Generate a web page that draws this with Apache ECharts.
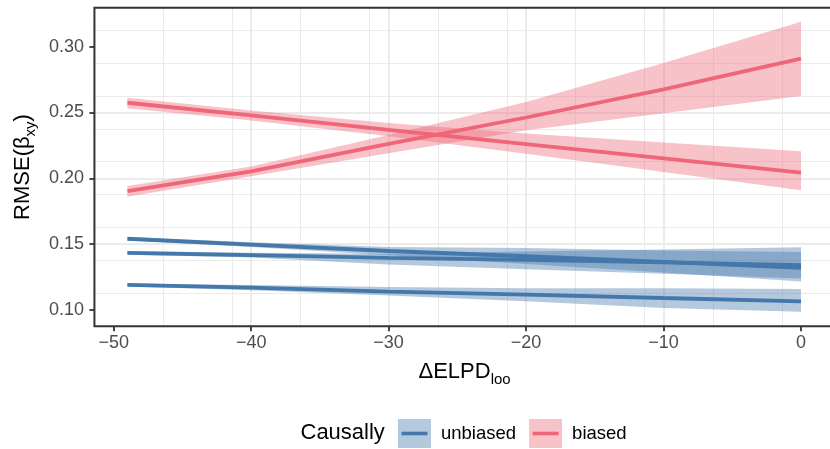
<!DOCTYPE html>
<html><head><meta charset="utf-8">
<script src="https://cdn.jsdelivr.net/npm/echarts@6/dist/echarts.min.js"></script>
<style>html,body{margin:0;padding:0;background:#fff;overflow:hidden;width:830px;height:449px}#c{width:840px;height:449px}</style>
</head><body><div id="c"></div>
<script>
// ---- data ----
const xs = [-49, -40, -30, -20, -10, 0];
const xTicks = [-50, -40, -30, -20, -10, 0];
const yTicks = [0.10, 0.15, 0.20, 0.25, 0.30];
const legendNames = ['unbiased', 'biased'];

// unbiased (blue) fits
const unbiasedA    = [0.1541, 0.1497, 0.1448, 0.1408, 0.1366, 0.1320];
const unbiasedALo  = [0.1527, 0.1478, 0.1415, 0.1350, 0.1285, 0.1216];
const unbiasedAHi  = [0.1555, 0.1514, 0.1478, 0.1470, 0.1452, 0.1440];
const unbiasedB    = [0.1434, 0.1416, 0.1395, 0.1380, 0.1362, 0.1340];
const unbiasedBLo  = [0.1420, 0.1398, 0.1345, 0.1310, 0.1275, 0.1240];
const unbiasedBHi  = [0.1448, 0.1434, 0.1428, 0.1445, 0.1460, 0.1477];
const unbiasedC    = [0.1190, 0.1170, 0.1139, 0.1117, 0.1091, 0.1066];
const unbiasedCLo  = [0.1178, 0.1150, 0.1109, 0.1066, 0.1015, 0.0987];
const unbiasedCHi  = [0.1202, 0.1190, 0.1175, 0.1165, 0.1165, 0.1160];
// biased (red) fits
const biasedD      = [0.2574, 0.2478, 0.2368, 0.2260, 0.2151, 0.2043];
const biasedDLo    = [0.2532, 0.2440, 0.2320, 0.2187, 0.2048, 0.1909];
const biasedDHi    = [0.2612, 0.2515, 0.2420, 0.2341, 0.2273, 0.2206];
const biasedE      = [0.1903, 0.2053, 0.2262, 0.2462, 0.2676, 0.2909];
const biasedELo    = [0.1860, 0.2015, 0.2190, 0.2365, 0.2495, 0.2625];
const biasedEHi    = [0.1942, 0.2090, 0.2330, 0.2580, 0.2876, 0.3190];

// ---- style ----
const FONT = "'Liberation Sans', Arial, Helvetica, sans-serif";
const BLUE = '#4477AA', RED = '#EE6677';
const BLUE_F = 'rgba(68,119,170,0.4)', RED_F = 'rgba(238,102,119,0.4)';
const GRID = '#EBEBEB';

function bandSeries(lo, hi, fill) {
  return {
    type: 'custom', silent: true, z: 1,
    xAxisIndex: 0, yAxisIndex: 0,
    data: [[xs[0], lo[0]]],
    renderItem: function (params, api) {
      const pts = [];
      for (let i = 0; i < xs.length; i++) pts.push(api.coord([xs[i], hi[i]]));
      for (let i = xs.length - 1; i >= 0; i--) pts.push(api.coord([xs[i], lo[i]]));
      return { type: 'polygon', shape: { points: pts }, style: { fill: fill, stroke: null } };
    }
  };
}
function lineSeries(name, ys, color) {
  return {
    type: 'line', name: name, z: 3, xAxisIndex: 0, yAxisIndex: 0,
    data: xs.map((x, i) => [x, ys[i]]),
    showSymbol: false, symbol: 'none', silent: true,
    lineStyle: { color: color, width: 3.8, cap: 'butt' },
    itemStyle: { color: color }
  };
}
function keyIcon(fill, stroke) {
  const svg = "<svg xmlns='http://www.w3.org/2000/svg' width='33' height='29'>" +
    "<rect x='0' y='0' width='33' height='29' fill='" + fill + "'/>" +
    "<line x1='3.5' y1='14.5' x2='29.5' y2='14.5' stroke='" + stroke + "' stroke-width='3.6'/></svg>";
  return 'image://data:image/svg+xml;charset=utf-8,' + encodeURIComponent(svg);
}
const minus = v => (v < 0 ? '\u2212' + Math.abs(v) : String(v));

const X_MIN = -51.4, X_MAX = 2.45, Y_MIN = 0.0876, Y_MAX = 0.3296;
const TICK_FS = 18, TITLE_FS = 22;

const nameRich = {
  a: { fontSize: TITLE_FS, lineHeight: 26, verticalAlign: 'top', fontFamily: FONT, color: '#000' },
  b: { fontSize: 15, lineHeight: 16, verticalAlign: 'bottom', padding: [15, 0, 0, 0], fontFamily: FONT, color: '#000' }
};

const chart = echarts.init(document.getElementById('c'), null, { renderer: 'canvas' });
chart.setOption({
  animation: false,
  backgroundColor: '#fff',
  grid: { left: 93.4, top: 7.7, width: 741.3, height: 318.6, show: true,
          borderColor: '#333333', borderWidth: 2, backgroundColor: 'transparent', containLabel: false, z: 5 },
  xAxis: [{
    type: 'value', min: X_MIN, max: X_MAX, interval: 10,
    axisLine: { show: false, onZero: false },
    axisTick: { show: true, length: 5, customValues: xTicks, lineStyle: { color: '#333333', width: 1.8 } },
    axisLabel: { customValues: xTicks, margin: 8, color: '#4D4D4D', fontSize: TICK_FS, fontFamily: FONT,
                 formatter: v => minus(v) },
    splitLine: { show: true, showMinLine: false, showMaxLine: false, lineStyle: { color: GRID, width: 2 } },
    name: '{a|\u0394ELPD}{b|loo}', nameLocation: 'middle', nameGap: 30,
    nameTextStyle: { color: '#000', fontFamily: FONT, fontSize: TITLE_FS, rich: nameRich }
  }, {
    type: 'value', min: X_MIN, max: X_MAX, interval: 5, position: 'bottom',
    axisLine: { show: false, onZero: false }, axisTick: { show: false }, axisLabel: { show: false },
    splitLine: { show: true, showMinLine: false, showMaxLine: false, lineStyle: { color: GRID, width: 1 } }
  }],
  yAxis: [{
    type: 'value', min: Y_MIN, max: Y_MAX, interval: 0.05,
    axisLine: { show: false, onZero: false },
    axisTick: { show: true, length: 5, customValues: yTicks, lineStyle: { color: '#333333', width: 1.8 } },
    axisLabel: { customValues: yTicks, margin: 10.5, color: '#4D4D4D', fontSize: TICK_FS, fontFamily: FONT,
                 formatter: v => v.toFixed(2) },
    splitLine: { show: true, showMinLine: false, showMaxLine: false, lineStyle: { color: GRID, width: 2 } },
    name: '{a|RMSE(\u03B2}{b|xy}{a|)}', nameLocation: 'middle', nameGap: 53, nameRotate: 90,
    nameTextStyle: { color: '#000', fontFamily: FONT, fontSize: TITLE_FS, rich: nameRich }
  }, {
    type: 'value', min: Y_MIN, max: Y_MAX, interval: 0.025, position: 'left',
    axisLine: { show: false, onZero: false }, axisTick: { show: false }, axisLabel: { show: false },
    splitLine: { show: true, showMinLine: false, showMaxLine: false, lineStyle: { color: GRID, width: 1 } }
  }],
  legend: {
    left: 398, top: 419, padding: 0, orient: 'horizontal', itemWidth: 33, itemHeight: 29, itemGap: 13,
    selectedMode: false,
    textStyle: { fontSize: 18.5, color: '#000', fontFamily: FONT, padding: [0, 0, 0, 5] },
    data: [
      { name: legendNames[0], icon: keyIcon('#B4C9DD', BLUE) },
      { name: legendNames[1], icon: keyIcon('#F8C2C9', RED) }
    ]
  },
  graphic: [{ type: 'text', left: 300.5, top: 422, silent: true,
              style: { text: 'Causally', fontSize: TITLE_FS, fontFamily: FONT, fill: '#000' } }],
  series: [
    bandSeries(unbiasedALo, unbiasedAHi, BLUE_F),
    bandSeries(unbiasedBLo, unbiasedBHi, BLUE_F),
    bandSeries(unbiasedCLo, unbiasedCHi, BLUE_F),
    bandSeries(biasedDLo, biasedDHi, RED_F),
    bandSeries(biasedELo, biasedEHi, RED_F),
    lineSeries(legendNames[0], unbiasedA, BLUE),
    lineSeries(legendNames[0], unbiasedB, BLUE),
    lineSeries(legendNames[0], unbiasedC, BLUE),
    lineSeries(legendNames[1], biasedD, RED),
    lineSeries(legendNames[1], biasedE, RED)
  ]
});
</script></body></html>
